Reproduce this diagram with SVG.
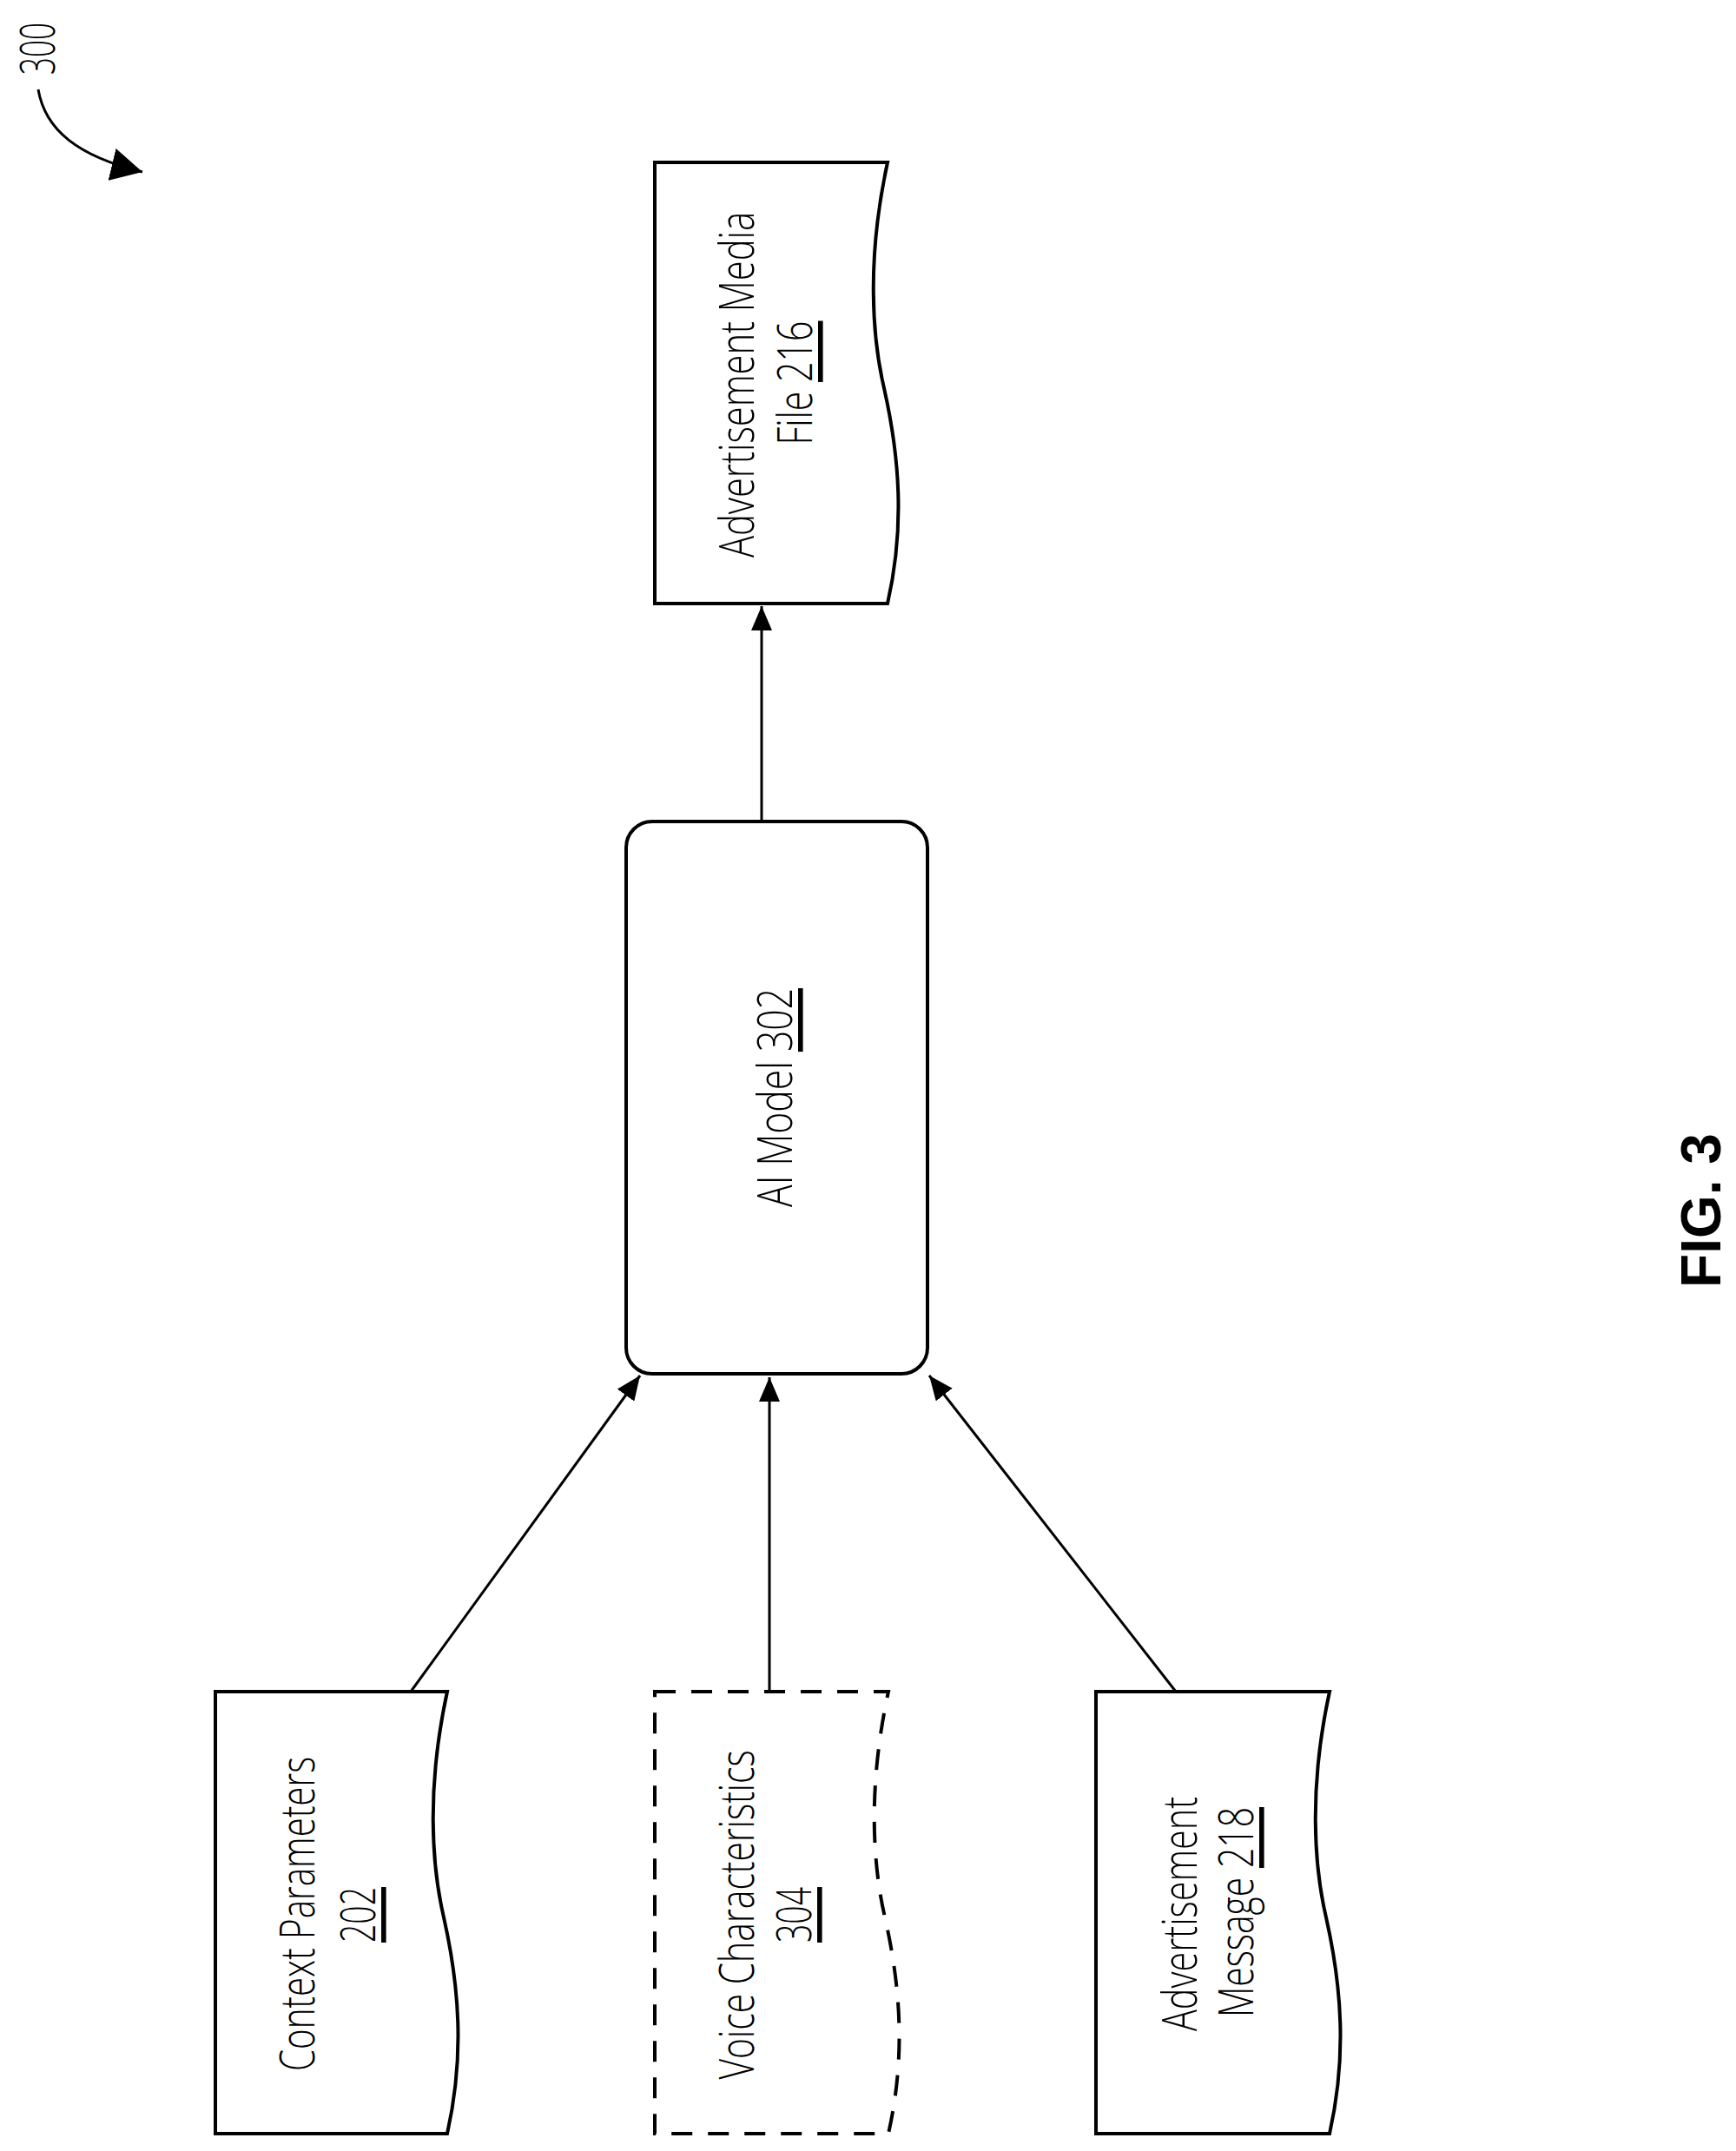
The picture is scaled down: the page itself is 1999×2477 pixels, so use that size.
<svg xmlns="http://www.w3.org/2000/svg" width="1999" height="2477" viewBox="0 0 1999 2477">
<style>
.box{fill:#fff;stroke:#000;stroke-width:4}
.dash{stroke-dasharray:24 18}
.t{font-family:"Open Sans","Noto Sans",sans-serif;font-weight:300;font-size:56px;fill:#000;text-anchor:middle;dominant-baseline:central}
.u{text-decoration:underline}
.c{fill:none;stroke:#000;stroke-width:3}
</style>
<defs>
<marker id="ah" markerUnits="userSpaceOnUse" markerWidth="30" markerHeight="24" refX="28" refY="12" orient="auto">
<path d="M0,0 L28,12 L0,24 z" fill="#000"/>
</marker>
<marker id="ahb" markerUnits="userSpaceOnUse" markerWidth="40" markerHeight="38" refX="36" refY="19" orient="auto">
<path d="M0,0 L36,19 L0,38 z" fill="#000"/>
</marker>
</defs>
<rect width="1999" height="2477" fill="#fff"/>
<g id="connectors">
<line class="c" x1="877" y1="946" x2="877" y2="698" marker-end="url(#ah)"/>
<line class="c" x1="473" y1="1948" x2="737" y2="1584" marker-end="url(#ah)"/>
<line class="c" x1="886" y1="1948" x2="886" y2="1586" marker-end="url(#ah)"/>
<line class="c" x1="1354" y1="1948" x2="1070" y2="1584" marker-end="url(#ah)"/>
<path class="c" d="M44,103 C52,150 90,180 164,198" stroke-width="4" marker-end="url(#ahb)"/>
</g>
<g id="label300">
<text class="t" x="41" y="56" font-size="40" textLength="60" lengthAdjust="spacingAndGlyphs" transform="rotate(-90 41 56)">300</text>
</g>
<g id="media216">
<path class="box" d="M754,187 H1022 C998,297 1004,387 1018,447 C1036,527 1042,607 1022,695 H754 Z"/>
<text class="t" x="846" y="443" textLength="398" lengthAdjust="spacingAndGlyphs" transform="rotate(-90 846 443)">Advertisement Media</text>
<text class="t" x="913" y="441" textLength="143" lengthAdjust="spacingAndGlyphs" transform="rotate(-90 913 441)">File <tspan class="u">216</tspan></text>
</g>
<g id="aimodel302">
<rect class="box" x="721" y="946" width="347" height="636" rx="30"/>
<text class="t" x="890" y="1264" textLength="252" lengthAdjust="spacingAndGlyphs" transform="rotate(-90 890 1264)">AI Model <tspan class="u">302</tspan></text>
</g>
<g id="context202">
<path class="box" d="M248,1948 H515 C491,2058 497,2148 511,2208 C529,2288 535,2368 515,2457 H248 Z"/>
<text class="t" x="340" y="2204" textLength="362" lengthAdjust="spacingAndGlyphs" transform="rotate(-90 340 2204)">Context Parameters</text>
<text class="t u" x="410" y="2205" textLength="64" lengthAdjust="spacingAndGlyphs" transform="rotate(-90 410 2205)">202</text>
</g>
<g id="voice304">
<path class="box dash" d="M754,1948 H1023 C999,2058 1005,2148 1019,2208 C1037,2288 1043,2368 1023,2457 H754 Z"/>
<text class="t" x="846" y="2205" textLength="379" lengthAdjust="spacingAndGlyphs" transform="rotate(-90 846 2205)">Voice Characteristics</text>
<text class="t u" x="912" y="2205" textLength="64" lengthAdjust="spacingAndGlyphs" transform="rotate(-90 912 2205)">304</text>
</g>
<g id="message218">
<path class="box" d="M1262,1948 H1531 C1507,2058 1513,2148 1527,2208 C1545,2288 1551,2368 1531,2457 H1262 Z"/>
<text class="t" x="1356" y="2204" textLength="270" lengthAdjust="spacingAndGlyphs" transform="rotate(-90 1356 2204)">Advertisement</text>
<text class="t" x="1421" y="2202" textLength="242" lengthAdjust="spacingAndGlyphs" transform="rotate(-90 1421 2202)">Message <tspan class="u">218</tspan></text>
</g>
<g id="fig">
<text x="1959" y="1394" font-family="Liberation Sans, Arial, sans-serif" font-weight="bold" font-size="64" text-anchor="middle" dominant-baseline="central" transform="rotate(-90 1959 1394)">FIG. 3</text>
</g>
</svg>
